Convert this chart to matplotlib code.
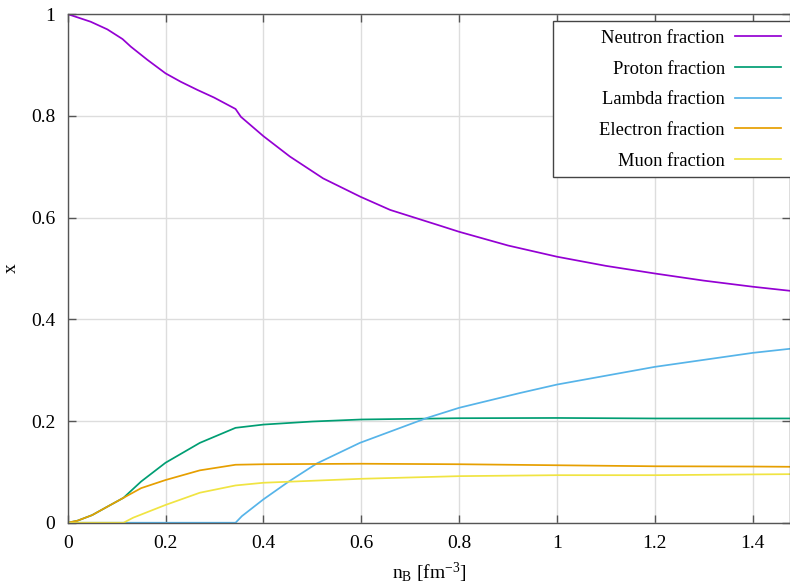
import matplotlib
matplotlib.use("Agg")
import matplotlib.pyplot as plt
from matplotlib.patches import Rectangle

plt.rcParams['font.family'] = ['Liberation Serif', 'DejaVu Serif']
plt.rcParams['mathtext.fontset'] = 'custom'
plt.rcParams['mathtext.rm'] = 'Liberation Serif'
plt.rcParams['mathtext.it'] = 'Liberation Serif:italic'

# values
nb_neutron = [0, 0.047, 0.081, 0.112, 0.129, 0.163, 0.2, 0.231, 0.265, 0.299, 0.343, 0.354,
              0.4, 0.454, 0.522, 0.598, 0.659, 0.761, 0.8, 0.9, 1.0, 1.1, 1.2, 1.3, 1.4, 1.476]
x_neutron = [1.0, 0.985, 0.970, 0.951, 0.936, 0.910, 0.8835, 0.867, 0.851, 0.836, 0.8135, 0.798,
             0.760, 0.720, 0.677, 0.641, 0.615, 0.584, 0.572, 0.545, 0.523, 0.505, 0.490, 0.476,
             0.464, 0.456]

nb_proton = [0, 0.02, 0.05, 0.08, 0.114, 0.15, 0.2, 0.27, 0.343, 0.4, 0.5, 0.6, 0.8, 1.0, 1.2, 1.476]
x_proton = [0, 0.004, 0.015, 0.031, 0.049, 0.081, 0.118, 0.157, 0.1866, 0.193, 0.199, 0.203,
            0.2055, 0.206, 0.205, 0.205]

nb_lambda = [0, 0.343, 0.356, 0.4, 0.451, 0.509, 0.597, 0.734, 0.8, 0.924, 1.0, 1.2, 1.4, 1.476]
x_lambda = [0, 0, 0.013, 0.046, 0.0805, 0.1165, 0.157, 0.206, 0.226, 0.255, 0.2717, 0.3065,
            0.334, 0.342]

nb_electron = [0, 0.02, 0.05, 0.08, 0.114, 0.15, 0.2, 0.27, 0.343, 0.4, 0.6, 0.8, 1.0, 1.2, 1.4, 1.476]
x_electron = [0, 0.004, 0.015, 0.031, 0.049, 0.068, 0.084, 0.103, 0.114, 0.115, 0.116, 0.115,
              0.113, 0.111, 0.1105, 0.110]

nb_muon = [0, 0.114, 0.134, 0.2, 0.27, 0.343, 0.4, 0.6, 0.8, 1.0, 1.2, 1.4, 1.476]
x_muon = [0, 0, 0.01, 0.035, 0.059, 0.0733, 0.0786, 0.0864, 0.0916, 0.0935, 0.0935, 0.095, 0.0955]

series = [
    ("Neutron fraction", nb_neutron, x_neutron, "#9400d3"),
    ("Proton fraction", nb_proton, x_proton, "#009e73"),
    ("Lambda fraction", nb_lambda, x_lambda, "#56b4e9"),
    ("Electron fraction", nb_electron, x_electron, "#e69f00"),
    ("Muon fraction", nb_muon, x_muon, "#f0e442"),
]

fig = plt.figure(figsize=(7.9, 5.88), dpi=100)
ax = fig.add_axes([0.0857, 0.111, 0.9143, 0.865])

for label, xs, ys, col in series:
    ax.plot(xs, ys, color=col, lw=1.25, label=label)

ax.set_xlim(0, 1.476)
ax.set_ylim(0, 1)
ax.set_xticks([0, 0.2, 0.4, 0.6, 0.8, 1.0, 1.2, 1.4])
ax.set_xticklabels(["0", "0.2", "0.4", "0.6", "0.8", "1", "1.2", "1.4"])
ax.set_yticks([0, 0.2, 0.4, 0.6, 0.8, 1.0])
ax.set_yticklabels(["0", "0.2", "0.4", "0.6", "0.8", "1"])
ax.grid(True, color="#dddddd", lw=1)
ax.set_axisbelow(True)
ax.tick_params(direction="in", length=6, width=1, color="#555555", labelsize=14,
               top=True, right=True, pad=9)
for s in ax.spines.values():
    s.set_color("#555555")
    s.set_linewidth(1)

ax.set_xlabel(r"n$_\mathrm{B}$ [fm$^{-3}$]", fontsize=14, labelpad=6)
ax.set_ylabel("x", fontsize=14, labelpad=8)

# key box drawn separately so it can be wider than its entries, like gnuplot
box = Rectangle((0.672, 0.680), 0.34, 0.306, transform=ax.transAxes, facecolor="white",
                edgecolor="#444444", lw=1, zorder=4, clip_on=False)
ax.add_patch(box)
leg = ax.legend(loc="upper right", bbox_to_anchor=(0.9875, 0.969), markerfirst=False,
                fontsize=13.3, handlelength=2.5, handletextpad=0.55, labelspacing=0.74,
                borderpad=0, borderaxespad=0, frameon=False)
leg.set_zorder(5)

plt.savefig("out.png", dpi=100)
